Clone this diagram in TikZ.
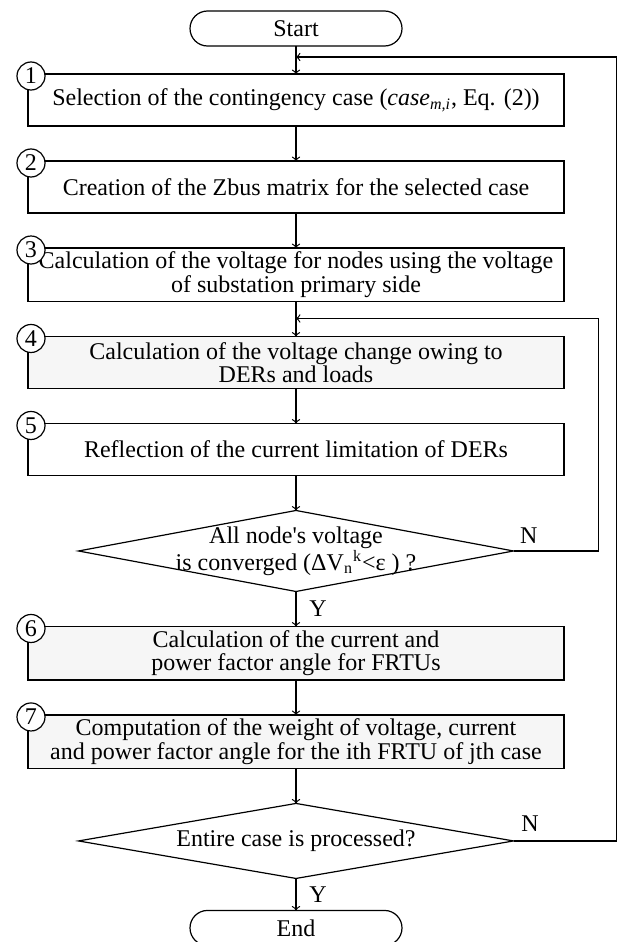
\documentclass[tikz,border=0pt]{standalone}
\usepackage{fontspec}
\setmainfont{Liberation Serif}
\usetikzlibrary{shapes.geometric}
\begin{document}
\begin{tikzpicture}[font=\fontsize{12}{11.7}\selectfont]
	\tikzstyle{block} = [rectangle,draw,line width=0.6pt,outer sep=0pt,minimum width=268pt,minimum height=26pt,inner sep=2pt,align=center]
	\tikzstyle{term} = [rectangle,draw,rounded corners=8.75pt,line width=0.6pt,outer sep=0pt,minimum width=106pt,minimum height=17.5pt,inner sep=0pt]
	\tikzstyle{decision} = [diamond,draw,line width=0.6pt,outer sep=0pt,minimum width=217.5pt,inner sep=0pt]
	\tikzstyle{num} = [circle,draw,fill=white,line width=0.6pt,minimum size=14pt,inner sep=0pt]
	\tikzstyle{flow} = [->,line width=0.6pt]
	
		\useasboundingbox (0,0) rectangle (311pt,-471pt);
		
		\node[term] (start) at (148pt,-14.25pt){Start};
		\node[block,anchor=north](b1) at ([yshift=-14pt]start.south){Selection of the contingency case (\textit{case}\textsubscript{\textit{m,i}}, Eq. (2))};
		\node[block,anchor=north](b2) at ([yshift=-17.5pt]b1.south){Creation of the Zbus matrix for the selected case};
		\node[block,anchor=north](b3) at ([yshift=-17.5pt]b2.south){Calculation of the voltage for nodes using the voltage\\of substation primary side};
		\node[block,anchor=north,fill=gray!7](b4) at ([yshift=-17.5pt]b3.south){Calculation of the voltage change owing to\\DERs and loads};
		\node[block,anchor=north](b5) at ([yshift=-17.5pt]b4.south){Reflection of the current limitation of DERs};
		\node[decision,anchor=north,minimum height=40.5pt](d1) at ([yshift=-17.5pt]b5.south){};
		\node[align=center,inner sep=0pt](t1) at (d1){All node{\addfontfeatures{Ligatures=TeXOff}'}s voltage\\is converged (ΔV\textsubscript{n}\textsuperscript{k}<ε ) ?};
		\node[block,anchor=north,fill=gray!7](b6) at ([yshift=-17.5pt]d1.south){Calculation of the current and\\power factor angle for FRTUs};
		\node[block,anchor=north,fill=gray!7](b7) at ([yshift=-17.5pt]b6.south){Computation of the weight of voltage, current\\and power factor angle for the ith FRTU of jth case};
		\node[decision,anchor=north,minimum height=37.5pt](d2) at ([yshift=-17.5pt]b7.south){};
		\node[inner sep=0pt](t2) at (d2){Entire case is processed?};
		\node[term,anchor=north](end) at ([yshift=-16pt]d2.south){End};
		
		\node[num](n1) at ([xshift=1.5pt,yshift=-1pt]b1.north west){1};
		\node[num](n2) at ([xshift=1.5pt,yshift=-1pt]b2.north west){2};
		\node[num](n3) at ([xshift=1.5pt,yshift=-1pt]b3.north west){3};
		\node[num](n4) at ([xshift=1.5pt,yshift=-1pt]b4.north west){4};
		\node[num](n5) at ([xshift=1.5pt,yshift=-1pt]b5.north west){5};
		\node[num](n6) at ([xshift=1.5pt,yshift=-1pt]b6.north west){6};
		\node[num](n7) at ([xshift=1.5pt,yshift=-1pt]b7.north west){7};
		
		\coordinate (j1) at ([yshift=-5.5pt]start.south);
		\coordinate (j2) at ([yshift=-8.5pt]b3.south);
		
		\draw[flow](start) -- (b1);
		\draw[flow](b1) -- (b2);
		\draw[flow](b2) -- (b3);
		\draw[flow](b3) -- (b4);
		\draw[flow](b4) -- (b5);
		\draw[flow](b5) -- (d1);
		\draw[flow](d1) -- node[right,xshift=3pt]{Y} (b6);
		\draw[flow](b6) -- (b7);
		\draw[flow](b7) -- (d2);
		\draw[flow](d2) -- node[right,xshift=3pt]{Y} (end);
		\draw[flow](d1.east) -- node[above,pos=0.18]{N} ++(42.5pt,0) |- (j2);
		\draw[flow](d2.east) -- node[above,pos=0.16,yshift=1pt]{N} ++(51.5pt,0) |- (j1);
\end{tikzpicture}
\end{document}
